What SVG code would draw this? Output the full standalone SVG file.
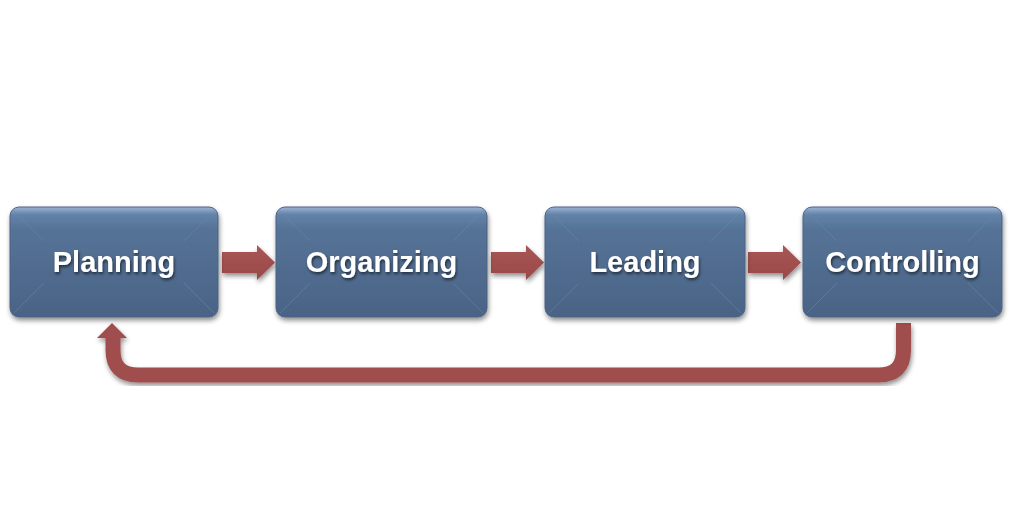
<svg xmlns="http://www.w3.org/2000/svg" width="1010" height="522" viewBox="0 0 1010 522">
<defs>
<linearGradient id="boxg" x1="0" y1="0" x2="0" y2="1">
<stop offset="0" stop-color="#9bb4d4"/>
<stop offset="0.07" stop-color="#6382a8"/>
<stop offset="0.2" stop-color="#557397"/>
<stop offset="1" stop-color="#4a6385"/>
</linearGradient>
<linearGradient id="arrg" x1="0" y1="0" x2="0" y2="1">
<stop offset="0" stop-color="#a85656"/>
<stop offset="1" stop-color="#9a4848"/>
</linearGradient>
<filter id="sh" x="-10%" y="-10%" width="125%" height="130%">
<feGaussianBlur in="SourceAlpha" stdDeviation="2.5"/>
<feOffset dx="1" dy="3" result="b"/>
<feComponentTransfer><feFuncA type="linear" slope="0.45"/></feComponentTransfer>
<feMerge><feMergeNode/><feMergeNode in="SourceGraphic"/></feMerge>
</filter>
<filter id="tsh" x="-10%" y="-20%" width="130%" height="150%">
<feGaussianBlur in="SourceAlpha" stdDeviation="1.5"/>
<feOffset dx="1" dy="2"/>
<feComponentTransfer><feFuncA type="linear" slope="0.6"/></feComponentTransfer>
<feMerge><feMergeNode/><feMergeNode in="SourceGraphic"/></feMerge>
</filter>
</defs>
<style>
.box{fill:url(#boxg);stroke:#4a6385;stroke-width:1;filter:url(#sh)}
.bev{fill:none;stroke:#6b87ab;stroke-width:1;opacity:0.5}
.lbl{font-family:"Liberation Sans",Arial,sans-serif;font-weight:bold;font-size:29px;fill:#ffffff;text-anchor:middle;filter:url(#tsh)}
.arr{fill:url(#arrg);filter:url(#sh)}
</style>
<g id="connectors">
<path class="arr" d="M222,252 H257 V245 L275,262.5 L257,280 V273 H222 Z"/>
<path class="arr" d="M491,252 H526 V245 L544,262.5 L526,280 V273 H491 Z"/>
<path class="arr" d="M748,252 H783 V245 L801,262.5 L783,280 V273 H748 Z"/>
<g filter="url(#sh)">
<path d="M903.5,323 V350 Q903.5,375 878.5,375 H138 Q113,375 113,350 V337" fill="none" stroke="#a04d4d" stroke-width="15"/>
<path d="M97,338 L112,323 L127,338 Z" fill="#a04d4d"/>
</g>
</g>
<g id="node-planning">
<rect class="box" x="10" y="207" width="208" height="110" rx="9"/>
<path class="bev" d="M14,211 L44,241 M214,211 L184,241 M14,313 L44,283 M214,313 L184,283"/>
<text class="lbl" x="114" y="272">Planning</text>
</g>
<g id="node-organizing">
<rect class="box" x="276" y="207" width="211" height="110" rx="9"/>
<path class="bev" d="M280,211 L310,241 M483,211 L453,241 M280,313 L310,283 M483,313 L453,283"/>
<text class="lbl" x="381.5" y="272">Organizing</text>
</g>
<g id="node-leading">
<rect class="box" x="545" y="207" width="200" height="110" rx="9"/>
<path class="bev" d="M549,211 L579,241 M741,211 L711,241 M549,313 L579,283 M741,313 L711,283"/>
<text class="lbl" x="645" y="272">Leading</text>
</g>
<g id="node-controlling">
<rect class="box" x="803" y="207" width="199" height="110" rx="9"/>
<path class="bev" d="M807,211 L837,241 M998,211 L968,241 M807,313 L837,283 M998,313 L968,283"/>
<text class="lbl" x="902.5" y="272">Controlling</text>
</g>
</svg>
